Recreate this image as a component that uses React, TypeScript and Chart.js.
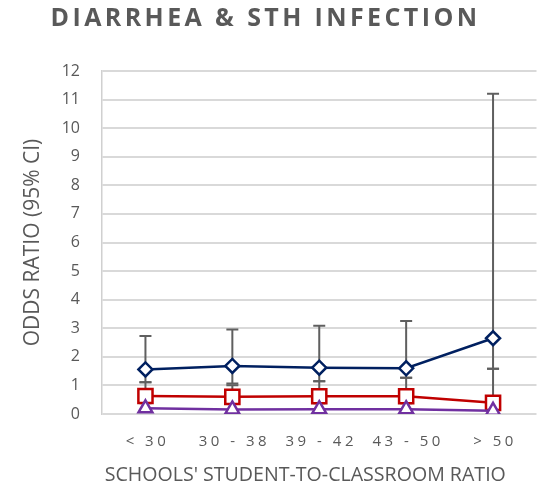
import React, { useEffect, useRef } from "react";
import { Chart, registerables } from "chart.js";

Chart.register(...registerables);

// ---- text ----
const TITLE = "DIARRHEA & STH INFECTION";
const X_TITLE = "SCHOOLS' STUDENT-TO-CLASSROOM RATIO";
const Y_TITLE = "ODDS RATIO (95% CI)";

// ---- data ----
const categories = ["< 30", "30 - 38", "39 - 42", "43 - 50", "> 50"];

const diarrheaOR = [1.56, 1.68, 1.62, 1.6, 2.65];
const diarrheaLower = [1.11, 1.07, 1.15, 1.27, 1.58];
const diarrheaUpper = [2.73, 2.96, 3.09, 3.25, 11.2];

const sthOR = [0.63, 0.6, 0.62, 0.62, 0.39];
const sthLower = [0.38, 0.36, 0.38, 0.38, 0.12];
const sthUpper = [1.11, 1.01, 1.15, 1.27, 1.58];

const otherOR = [0.2, 0.16, 0.17, 0.17, 0.11];

const Y_MIN = 0;
const Y_MAX = 12;
const Y_STEP = 1;

// ---- styles ----
const NAVY = "#002060";
const RED = "#c00000";
const PURPLE = "#7030a0";
const TEXT = "#595959";
const GRID = "#d9d9d9";
const ERR = "#5f5f5f";
const FONT = "'Open Sans', 'DejaVu Sans', sans-serif";

const errorSets = [
  { lower: diarrheaLower, upper: diarrheaUpper },
  { lower: sthLower, upper: sthUpper },
];

const errorBarPlugin = {
  id: "errorBars",
  beforeDatasetsDraw(chart: any) {
    const { ctx } = chart;
    const xs = chart.scales.x;
    const ys = chart.scales.y;
    ctx.save();
    ctx.strokeStyle = ERR;
    ctx.lineWidth = 2;
    const cap = 6;
    errorSets.forEach(({ lower, upper }) => {
      lower.forEach((lo: number, i: number) => {
        const px = xs.getPixelForValue(i);
        const yl = ys.getPixelForValue(lo);
        const yu = ys.getPixelForValue(upper[i]);
        ctx.beginPath();
        ctx.moveTo(px, yl);
        ctx.lineTo(px, yu);
        ctx.moveTo(px - cap, yl);
        ctx.lineTo(px + cap, yl);
        ctx.moveTo(px - cap, yu);
        ctx.lineTo(px + cap, yu);
        ctx.stroke();
      });
    });
    ctx.restore();
  },
};

const spacingPlugin = {
  id: "letterSpacing",
  beforeDraw(chart: any) {
    const ctx = chart.ctx;
    const tb = chart.titleBlock;
    if (tb && !tb.__ls) {
      const orig = tb.draw.bind(tb);
      tb.draw = (...args: any[]) => {
        ctx.save();
        (ctx as any).letterSpacing = "3.4px";
        ctx.translate(-12, 0);
        orig(...args);
        ctx.restore();
      };
      tb.__ls = true;
    }
    const sx = chart.scales.x;
    if (sx && !sx.__ls) {
      const origL = sx.drawLabels.bind(sx);
      sx.drawLabels = (...args: any[]) => {
        ctx.save();
        (ctx as any).letterSpacing = "3.5px";
        ctx.translate(2, 0);
        origL(...args);
        ctx.restore();
      };
      const origT = sx.drawTitle.bind(sx);
      sx.drawTitle = (...args: any[]) => {
        ctx.save();
        ctx.translate(-14, 0);
        origT(...args);
        ctx.restore();
      };
      sx.__ls = true;
    }
  },
};

export default function App() {
  const ref = useRef<HTMLCanvasElement | null>(null);

  useEffect(() => {
    if (!ref.current) return;
    const chart = new Chart(ref.current, {
      type: "line",
      data: {
        labels: categories,
        datasets: [
          {
            label: "Diarrhea",
            data: diarrheaOR,
            borderColor: NAVY,
            borderWidth: 2.5,
            pointStyle: "rectRot",
            pointRadius: 7,
            pointBorderWidth: 2.5,
            pointBackgroundColor: "#ffffff",
            pointBorderColor: NAVY,
            order: 3,
          },
          {
            label: "STH infection",
            data: sthOR,
            borderColor: RED,
            borderWidth: 2.5,
            pointStyle: "rect",
            pointRadius: 10,
            pointBorderWidth: 2.5,
            pointBackgroundColor: "#ffffff",
            pointBorderColor: RED,
            order: 2,
          },
          {
            label: "Other",
            data: otherOR,
            borderColor: PURPLE,
            borderWidth: 2.5,
            pointStyle: "triangle",
            pointRadius: 8,
            pointBorderWidth: 2.5,
            pointBackgroundColor: "#ffffff",
            pointBorderColor: PURPLE,
            order: 1,
          },
        ],
      },
      options: {
        animation: false,
        responsive: false,
        layout: { padding: { left: 10, right: 4, top: 4, bottom: 4 } },
        plugins: {
          legend: { display: false },
          tooltip: { enabled: false },
          title: {
            display: true,
            text: TITLE,
            color: TEXT,
            font: { family: FONT, size: 25, weight: "bold" },
            padding: { top: 0, bottom: 37 },
          },
        },
        scales: {
          x: {
            type: "category",
            offset: true,
            grid: { display: false, drawTicks: false },
            border: { display: false },
            ticks: {
              color: TEXT,
              font: { family: FONT, size: 15 },
              padding: 19,
              maxRotation: 0,
              autoSkip: false,
            },
            title: {
              display: true,
              text: X_TITLE,
              color: TEXT,
              font: { family: FONT, size: 19.6 },
              padding: { top: 0, bottom: 5 },
            },
            afterFit: (s: any) => {
              s.height = 78;
            },
          },
          y: {
            min: Y_MIN,
            max: Y_MAX,
            grid: { color: GRID, lineWidth: 2, drawTicks: false },
            border: { display: true, color: "#d0d0d0", width: 1.5 },
            ticks: {
              stepSize: Y_STEP,
              color: TEXT,
              font: { family: FONT, size: 16 },
              padding: 22,
            },
            title: {
              display: true,
              text: Y_TITLE,
              color: TEXT,
              font: { family: FONT, size: 21 },
              padding: { top: 10, bottom: 0 },
            },
            afterFit: (s: any) => {
              s.width = 92;
            },
          },
        },
      },
      plugins: [errorBarPlugin, spacingPlugin],
    });
    return () => chart.destroy();
  }, []);

  return (
    <div style={{ position: "absolute", left: 0, top: 0, width: 549, height: 496, background: "#fff" }}>
      <canvas ref={ref} width={549} height={496} style={{ display: "block" }} />
    </div>
  );
}
